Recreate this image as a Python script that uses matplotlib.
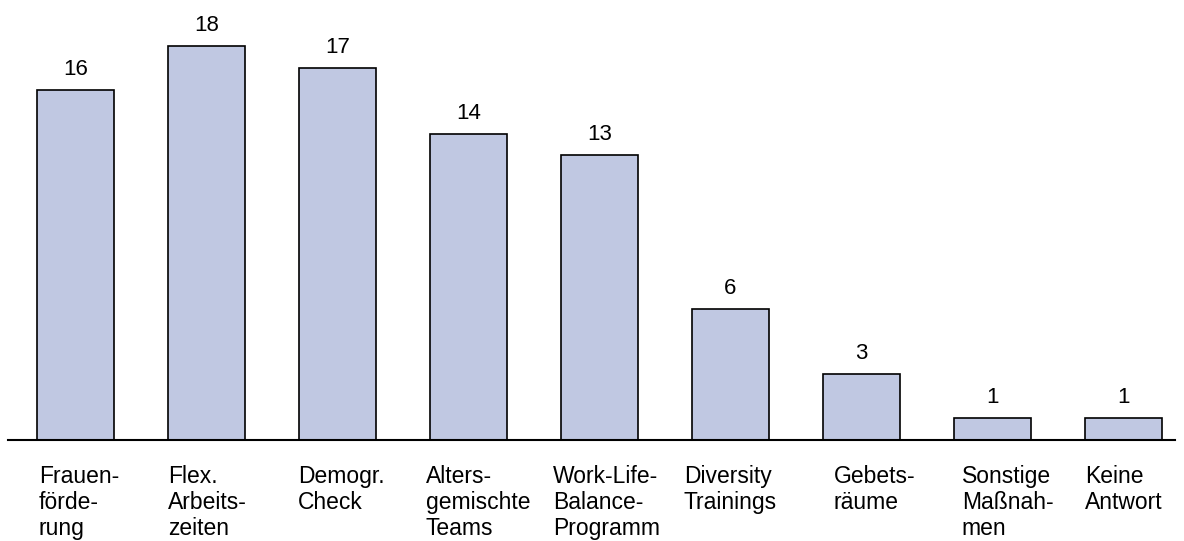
import numpy as np
import matplotlib
matplotlib.use("Agg")
import matplotlib.pyplot as plt

plt.rcParams['font.family'] = ['Liberation Sans', 'DejaVu Sans']

labels = ["Frauen-\nförde-\nrung", "Flex.\nArbeits-\nzeiten", "Demogr.\nCheck",
          "Alters-\ngemischte\nTeams", "Work-Life-\nBalance-\nProgramm", "Diversity\nTrainings",
          "Gebets-\nräume", "Sonstige\nMaßnah-\nmen", "Keine\nAntwort"]
values = [16, 18, 17, 14, 13, 6, 3, 1, 1]
# small horizontal nudges of the category labels (pixels), as in the original layout
label_shift = [2, 0, -1, -4, -8, -8, 11, 8, 0]

fig = plt.figure(figsize=(11.84, 5.41), dpi=100)
ax = fig.add_axes([8/1184, 101/541, 1167/1184, 440/541])

x = np.arange(len(values))
w = 0.59
ax.bar(x, values, width=w, color="#c0c8e2", edgecolor="black", linewidth=1.2, zorder=2)

ax.set_xlim(-0.515, 8.393)
ax.set_ylim(0, 440/21.89)

for s in ["top", "left", "right"]:
    ax.spines[s].set_visible(False)
ax.spines["bottom"].set_linewidth(1.5)
ax.set_xticks([])
ax.set_yticks([])

for i, v in enumerate(values):
    ax.annotate(str(v), xy=(i, v), xytext=(0, 10), textcoords="offset pixels",
                ha="center", va="bottom", fontsize=16)
    ax.annotate(labels[i], xy=(i - w/2, 0), xytext=(label_shift[i], -25), textcoords="offset pixels",
                ha="left", va="top", fontsize=16.5, linespacing=1.16, annotation_clip=False)

plt.savefig("out.png", dpi=100)
